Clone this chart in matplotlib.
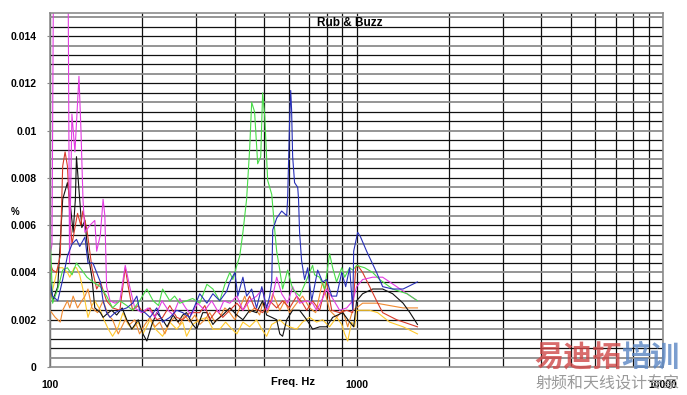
import numpy as np
import matplotlib.pyplot as plt
from matplotlib.ticker import LogLocator, NullFormatter, FixedLocator

plt.rcParams['font.family'] = ['Liberation Sans', 'DejaVu Sans']

# frequency (Hz) / level (fraction) for each trace
green_f = [100, 102, 106, 110, 114, 118, 122, 127, 132, 138, 146, 153, 160, 169, 178, 186,
           196, 207, 217, 226, 233, 246, 255, 265, 279, 292, 308, 325, 340, 358, 372, 386,
           395, 407, 416, 426, 438, 448, 455, 465, 476, 487, 494, 502, 513, 529, 541, 549,
           562, 574, 596, 619, 652, 688, 719, 730, 758, 787, 817, 836, 861, 895, 915, 950,
           972, 1001, 1063, 1129, 1190, 1312, 1462, 1581]
green_v = [0.0058, 0.0027, 0.0033, 0.0041, 0.0042, 0.0039, 0.0044, 0.0041, 0.0038, 0.0036,
           0.0034, 0.0030, 0.0025, 0.0028, 0.0026, 0.0024, 0.0028, 0.0033, 0.0028, 0.0026,
           0.0033, 0.0028, 0.0030, 0.0027, 0.0028, 0.0029, 0.0027, 0.0035, 0.0033, 0.0028,
           0.0035, 0.0040, 0.0037, 0.0043, 0.0047, 0.0057, 0.0071, 0.0092, 0.0112, 0.0108,
           0.0086, 0.0089, 0.0116, 0.0106, 0.0079, 0.0073, 0.0058, 0.0049, 0.0041, 0.0033,
           0.0041, 0.0033, 0.0030, 0.0037, 0.0043, 0.0039, 0.0038, 0.0033, 0.0048, 0.0042,
           0.0036, 0.0042, 0.0038, 0.0042, 0.0041, 0.0043, 0.0042, 0.0040, 0.0037, 0.0033,
           0.0031, 0.0028]

blue_f = [100, 102, 106, 110, 114, 118, 122, 125, 130, 133, 138, 146, 149, 153, 157, 163,
          169, 178, 186, 192, 196, 204, 212, 223, 233, 246, 259, 271, 286, 297, 308, 325,
          340, 358, 377, 386, 401, 410, 426, 438, 455, 472, 491, 509, 521, 529, 533, 549,
          570, 592, 596, 605, 610, 614, 619, 628, 643, 647, 652, 662, 677, 693, 714, 747,
          775, 799, 830, 861, 895, 922, 950, 972, 979, 1009, 1031, 1079, 1163, 1217, 1312,
          1419, 1581]
blue_v = [0.0037, 0.0030, 0.0028, 0.0037, 0.0047, 0.0052, 0.0054, 0.0051, 0.0055, 0.0044,
          0.0044, 0.0036, 0.0028, 0.0023, 0.0021, 0.0023, 0.0024, 0.0025, 0.0027, 0.0030,
          0.0024, 0.0023, 0.0021, 0.0025, 0.0019, 0.0021, 0.0024, 0.0023, 0.0021, 0.0026,
          0.0031, 0.0027, 0.0031, 0.0028, 0.0032, 0.0036, 0.0040, 0.0030, 0.0038, 0.0030,
          0.0033, 0.0025, 0.0034, 0.0025, 0.0030, 0.0036, 0.0058, 0.0063, 0.0066, 0.0064,
          0.0071, 0.0104, 0.0117, 0.0109, 0.0089, 0.0078, 0.0076, 0.0071, 0.0057, 0.0045,
          0.0037, 0.0042, 0.0028, 0.0041, 0.0036, 0.0037, 0.0030, 0.0030, 0.0040, 0.0034,
          0.0042, 0.0024, 0.0049, 0.0057, 0.0055, 0.0049, 0.0040, 0.0034, 0.0033, 0.0033,
          0.0036]

red_f = [100, 102, 105, 108, 110, 112, 114, 116, 118, 121, 123, 126, 128, 132, 137, 142,
         146, 153, 160, 169, 176, 180, 186, 194, 201, 212, 223, 233, 246, 259, 271, 286,
         308, 320, 332, 350, 366, 386, 407, 426, 448, 465, 494, 521, 549, 574, 605, 638,
         667, 688, 719, 758, 799, 830, 881, 929, 972, 994, 1009, 1047, 1104, 1163, 1217,
         1352, 1581]
red_v = [0.0044, 0.0041, 0.0040, 0.0047, 0.0085, 0.0091, 0.0085, 0.0064, 0.0052, 0.0060,
         0.0065, 0.0060, 0.0066, 0.0058, 0.0042, 0.0033, 0.0036, 0.0028, 0.0025, 0.0024,
         0.0042, 0.0034, 0.0024, 0.0026, 0.0023, 0.0025, 0.0020, 0.0021, 0.0026, 0.0021,
         0.0020, 0.0023, 0.0023, 0.0026, 0.0020, 0.0024, 0.0021, 0.0024, 0.0027, 0.0024,
         0.0030, 0.0025, 0.0023, 0.0028, 0.0025, 0.0028, 0.0025, 0.0030, 0.0027, 0.0024,
         0.0028, 0.0024, 0.0036, 0.0024, 0.0023, 0.0024, 0.0023, 0.0042, 0.0043, 0.0040,
         0.0034, 0.0028, 0.0023, 0.0020, 0.0017]

black_f = [100, 102, 106, 110, 114, 116, 119, 121, 122, 123, 127, 130, 133, 137, 140, 146,
           149, 155, 159, 165, 172, 178, 185, 194, 201, 207, 215, 223, 233, 241, 252, 262,
           271, 279, 292, 301, 315, 325, 340, 350, 366, 386, 407, 426, 448, 472, 494, 509,
           529, 549, 562, 574, 592, 619, 652, 688, 719, 758, 799, 836, 902, 950, 979, 1001,
           1047, 1129, 1217, 1312, 1419, 1494, 1581]
black_v = [0.0038, 0.0028, 0.0034, 0.0071, 0.0078, 0.0071, 0.0057, 0.0071, 0.0089, 0.0083,
           0.0059, 0.0062, 0.0048, 0.0038, 0.0025, 0.0023, 0.0021, 0.0023, 0.0024, 0.0022,
           0.0025, 0.0020, 0.0016, 0.0020, 0.0014, 0.0011, 0.0018, 0.0023, 0.0020, 0.0017,
           0.0022, 0.0019, 0.0022, 0.0023, 0.0018, 0.0016, 0.0023, 0.0023, 0.0018, 0.0020,
           0.0022, 0.0025, 0.0022, 0.0020, 0.0024, 0.0023, 0.0028, 0.0022, 0.0021, 0.0020,
           0.0014, 0.0013, 0.0020, 0.0024, 0.0024, 0.0020, 0.0016, 0.0017, 0.0017, 0.0021,
           0.0023, 0.0019, 0.0017, 0.0028, 0.0031, 0.0033, 0.0033, 0.0031, 0.0027, 0.0023,
           0.0018]

magenta_f = [100, 101.5, 104, 113.2, 115.8, 117.9, 120.6, 124.3, 126.2, 128.1, 130, 135,
             140, 142, 146, 149, 151, 153, 157, 163, 169, 176, 182, 189, 199, 209, 220, 232,
             243, 252, 265, 277, 289, 303, 320, 337, 355, 369, 386, 407, 426, 448, 472, 494,
             509, 529, 549, 570, 596, 619, 652, 688, 719, 741, 769, 799, 836, 881, 929, 972,
             1001, 1047, 1129, 1217, 1352, 1462, 1581]
magenta_v = [0.0047, 0.0052, 0.0300, 0.0300, 0.0044, 0.0107, 0.0091, 0.0123, 0.0100, 0.0071,
             0.0057, 0.0060, 0.0062, 0.0049, 0.0056, 0.0071, 0.0064, 0.0034, 0.0028, 0.0027,
             0.0028, 0.0043, 0.0034, 0.0025, 0.0023, 0.0025, 0.0021, 0.0028, 0.0024, 0.0022,
             0.0029, 0.0025, 0.0022, 0.0027, 0.0024, 0.0028, 0.0023, 0.0028, 0.0027, 0.0030,
             0.0024, 0.0028, 0.0030, 0.0033, 0.0024, 0.0028, 0.0038, 0.0031, 0.0027, 0.0034,
             0.0027, 0.0028, 0.0027, 0.0024, 0.0028, 0.0033, 0.0029, 0.0024, 0.0025, 0.0028,
             0.0034, 0.0037, 0.0038, 0.0038, 0.0034, 0.0031, 0.0028]

orange_f = [100, 104, 108, 110, 114, 116, 119, 123, 127, 130, 133, 137, 143, 149, 155, 160,
            167, 176, 182, 189, 196, 204, 212, 220, 228, 237, 246, 255, 265, 275, 286, 297,
            308, 320, 332, 345, 358, 372, 386, 401, 416, 432, 448, 465, 483, 494, 513, 533,
            562, 583, 605, 638, 667, 703, 736, 775, 817, 861, 902, 936, 972, 1001, 1047,
            1163, 1283, 1419, 1581]
orange_v = [0.0024, 0.0021, 0.0019, 0.0024, 0.0028, 0.0025, 0.0030, 0.0025, 0.0028, 0.0030,
            0.0033, 0.0025, 0.0023, 0.0028, 0.0022, 0.0020, 0.0014, 0.0020, 0.0018, 0.0020,
            0.0014, 0.0018, 0.0021, 0.0017, 0.0019, 0.0014, 0.0019, 0.0021, 0.0018, 0.0022,
            0.0019, 0.0022, 0.0018, 0.0020, 0.0023, 0.0019, 0.0021, 0.0025, 0.0023, 0.0020,
            0.0025, 0.0030, 0.0023, 0.0025, 0.0022, 0.0027, 0.0023, 0.0031, 0.0024, 0.0028,
            0.0023, 0.0027, 0.0030, 0.0025, 0.0023, 0.0036, 0.0024, 0.0021, 0.0024, 0.0017,
            0.0024, 0.0025, 0.0027, 0.0027, 0.0026, 0.0025, 0.0025]

yellow_f = [100, 103, 106, 110, 114, 116, 120, 122, 125, 128, 133, 137, 140, 146, 150, 155,
            160, 167, 173, 180, 186, 194, 201, 212, 221, 233, 246, 259, 271, 279, 292, 308,
            325, 340, 358, 374, 386, 407, 426, 448, 472, 491, 509, 529, 562, 583, 605, 638,
            667, 703, 741, 775, 817, 861, 895, 915, 936, 964, 986, 1001, 1104, 1172, 1283,
            1419, 1581]
yellow_v = [0.0028, 0.0035, 0.0042, 0.0042, 0.0040, 0.0038, 0.0042, 0.0042, 0.0039, 0.0033,
            0.0021, 0.0026, 0.0028, 0.0024, 0.0020, 0.0016, 0.0013, 0.0017, 0.0023, 0.0018,
            0.0016, 0.0019, 0.0014, 0.0020, 0.0016, 0.0013, 0.0019, 0.0016, 0.0019, 0.0013,
            0.0018, 0.0020, 0.0021, 0.0016, 0.0016, 0.0019, 0.0017, 0.0014, 0.0019, 0.0017,
            0.0020, 0.0016, 0.0013, 0.0018, 0.0020, 0.0018, 0.0017, 0.0016, 0.0019, 0.0021,
            0.0019, 0.0020, 0.0017, 0.0021, 0.0018, 0.0014, 0.0011, 0.0019, 0.0017, 0.0024,
            0.0024, 0.0023, 0.0019, 0.0017, 0.0014]

y_ticks = [0, 0.002, 0.004, 0.006, 0.008, 0.01, 0.012, 0.014]
y_labels = ['0', '0.002', '0.004', '0.006', '0.008', '0.01', '0.012', '0.014']
x_ticks = [100, 1000, 10000]
x_labels = ['100', '1000', '10000']

fig = plt.figure(figsize=(6.87, 3.95), dpi=100)
ax = fig.add_axes([50 / 687, 28 / 395, 613 / 687, 354.5 / 395])
ax.set_xscale('log')
ax.set_xlim(100, 10000)
ax.set_ylim(0, 0.015)

# horizontal grid every 0.0004, every third one grey
steps = np.arange(1, 38) * 0.0004
grey = [s for i, s in enumerate(steps, 1) if i % 3 == 1]
dark = [s for i, s in enumerate(steps, 1) if i % 3 != 1]
ax.hlines(dark, 100, 10000, color='#111111', lw=0.9, zorder=0.6)
ax.hlines(grey, 100, 10000, color='#8c8c8c', lw=1.3, zorder=0.6)

ax.xaxis.set_major_locator(FixedLocator(x_ticks))
ax.xaxis.set_minor_locator(LogLocator(base=10, subs=range(2, 10)))
ax.xaxis.set_minor_formatter(NullFormatter())
ax.grid(which='both', axis='x', color='#111111', lw=0.9, zorder=0.7)
ax.set_axisbelow(True)
ax.set_xticklabels(x_labels, fontweight='bold', fontsize=7.5)
ax.tick_params(axis='x', which='both', length=0, pad=9)

ax.set_yticks(y_ticks)
ax.set_yticklabels(y_labels, fontweight='bold', fontsize=7.5)
ax.tick_params(axis='y', length=2.5, color='#888888', pad=7)

for s in ax.spines.values():
    s.set_color('#8c8c8c')
    s.set_linewidth(1.2)

traces = [(yellow_f, yellow_v, '#ffc82a'), (orange_f, orange_v, '#f08a30'),
          (black_f, black_v, '#101010'), (red_f, red_v, '#d83a2a'),
          (magenta_f, magenta_v, '#e23ee2'), (green_f, green_v, '#48dc48'),
          (blue_f, blue_v, '#2830b8')]
for f, v, c in traces:
    ax.plot(f, v, color=c, lw=0.8, zorder=2)

fig.text(350 / 687, 1 - 23 / 395, 'Rub & Buzz', ha='center', va='center',
         fontsize=8.5, fontweight='bold')
fig.text(293 / 687, 1 - 382 / 395, 'Freq. Hz', ha='center', va='center',
         fontsize=8, fontweight='bold')
fig.text(15 / 687, 1 - 212 / 395, '%', ha='center', va='center',
         fontsize=7, fontweight='bold')

# watermark
fig.text(534 / 687, 1 - 357 / 395, '易迪拓', ha='left', va='center', fontsize=21,
         fontweight='bold', color='#d04848', alpha=0.8, family='Noto Sans CJK SC')
fig.text(621 / 687, 1 - 357 / 395, '培训', ha='left', va='center', fontsize=21,
         fontweight='bold', color='#5a86c4', alpha=0.8, family='Noto Sans CJK SC')
fig.text(535 / 687, 1 - 384 / 395, '射频和天线设计专家', ha='left', va='center',
         fontsize=11.5, color='#9a9a9a', family='Noto Sans CJK SC')

fig.savefig('out.png', dpi=100)
